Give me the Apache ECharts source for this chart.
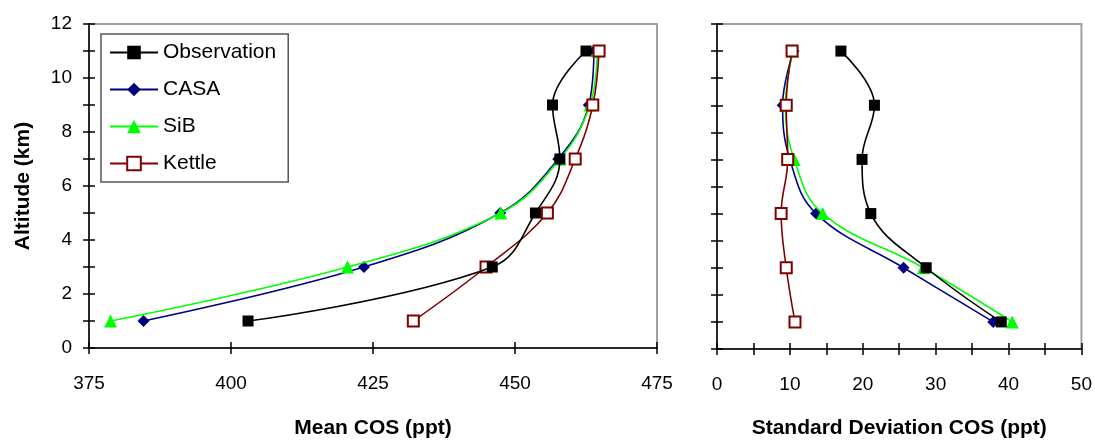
<!DOCTYPE html>
<html>
<head>
<meta charset="utf-8">
<script src="https://cdn.jsdelivr.net/npm/echarts@6/dist/echarts.min.js"></script>
<style>html,body{margin:0;padding:0;background:#fff}#c{width:1095px;height:444px}</style>
</head>
<body>
<div id="c"></div>
<script>
const altitudes = [1, 3, 5, 7, 9, 11];
const seriesNames = ['Observation', 'CASA', 'SiB', 'Kettle'];
const meanObs = [403.0, 446.0, 453.6, 457.9, 456.6, 462.5];
const meanCASA = [384.6, 423.4, 447.4, 457.6, 463.0, 463.9];
const meanSiB = [378.8, 420.5, 447.5, 457.9, 463.2, 464.5];
const meanKettle = [432.1, 444.9, 455.7, 460.6, 463.7, 464.8];
const sdObs = [39.0, 28.7, 21.1, 19.9, 21.6, 17.0];
const sdCASA = [37.9, 25.6, 13.6, 10.0, 9.0, 10.5];
const sdSiB = [40.5, 28.3, 14.5, 10.6, 9.4, 10.4];
const sdKettle = [10.7, 9.5, 8.8, 9.7, 9.5, 10.3];
const meanTicks = [375, 400, 425, 450, 475];
const sdTicks = [0, 10, 20, 30, 40, 50];
const altTicks = [0, 2, 4, 6, 8, 10, 12];

const FONT = "'Liberation Sans', Arial, sans-serif";
const styles = {
  Observation: {color: '#000000', symbol: 'rect', size: 11, fill: '#000000'},
  CASA: {color: '#000080', symbol: 'diamond', size: 12, fill: '#000080'},
  SiB: {color: '#00ff00', symbol: 'triangle', size: 13, fill: '#00ff00'},
  Kettle: {color: '#800000', symbol: 'rect', size: 11, fill: '#ffffff'}
};
const meanData = {Observation: meanObs, CASA: meanCASA, SiB: meanSiB, Kettle: meanKettle};
const sdData = {Observation: sdObs, CASA: sdCASA, SiB: sdSiB, Kettle: sdKettle};

function pairs(xs) { return xs.map((x, i) => [x, altitudes[i]]); }

function mkSeries(name, data, xi, yi) {
  const s = styles[name];
  return {
    name: name, type: 'line', xAxisIndex: xi, yAxisIndex: yi,
    data: pairs(data), smooth: 0.4,
    symbol: s.symbol, symbolSize: s.size,
    lineStyle: {color: s.color, width: 1.6},
    itemStyle: {color: s.fill, borderColor: s.color, borderWidth: name === 'Kettle' ? 2 : 0},
    emphasis: {disabled: true},
    z: name === 'Kettle' ? 5 : (name === 'SiB' ? 4 : (name === 'CASA' ? 3 : 6))
  };
}

const labelStyle = {fontFamily: FONT, fontSize: 19, color: '#000'};
const nameStyle = {fontFamily: FONT, fontSize: 21, fontWeight: 'bold', color: '#000'};

function xMain(grid, min, max, interval, labels, name, gap) {
  return {
    type: 'value', gridIndex: grid, position: 'bottom', min: min, max: max, interval: interval,
    axisLine: {show: true, onZero: false, lineStyle: {color: '#000', width: 1.5}},
    axisTick: {show: true, inside: false, length: 6, lineStyle: {color: '#000', width: 1.5}},
    axisLabel: {show: true, margin: 26, ...labelStyle, formatter: v => labels.includes(v) ? String(v) : ''},
    splitLine: {show: false},
    name: name, nameLocation: 'middle', nameGap: gap, nameTextStyle: nameStyle
  };
}
function xInner(grid, min, max, interval) {
  return {
    type: 'value', gridIndex: grid, position: 'bottom', min: min, max: max, interval: interval,
    axisLine: {show: false, onZero: false},
    axisTick: {show: true, inside: true, length: 6, lineStyle: {color: '#000', width: 1.5}},
    axisLabel: {show: false}, splitLine: {show: false}
  };
}
function yMain(grid, showLabels, name) {
  return {
    type: 'value', gridIndex: grid, position: 'left', min: 0, max: 12, interval: 1,
    axisLine: {show: true, onZero: false, lineStyle: {color: '#000', width: 1.5}},
    axisTick: {show: true, inside: false, length: 6, lineStyle: {color: '#000', width: 1.5}},
    axisLabel: {show: showLabels, margin: 17, ...labelStyle, formatter: v => altTicks.includes(v) ? String(v) : ''},
    splitLine: {show: false},
    name: name, nameLocation: 'middle', nameGap: 55, nameTextStyle: nameStyle
  };
}
function yInner(grid) {
  return {
    type: 'value', gridIndex: grid, position: 'left', min: 0, max: 12, interval: 1,
    axisLine: {show: false, onZero: false},
    axisTick: {show: true, inside: true, length: 6, lineStyle: {color: '#000', width: 1.5}},
    axisLabel: {show: false}, splitLine: {show: false}
  };
}

const series = [];
seriesNames.forEach(n => series.push(mkSeries(n, meanData[n], 0, 0)));
seriesNames.forEach(n => series.push(mkSeries(n, sdData[n], 2, 2)));

const chart = echarts.init(document.getElementById('c'), null, {renderer: 'canvas'});
chart.setOption({
  animation: false,
  backgroundColor: '#ffffff',
  grid: [
    {left: 89, top: 24, width: 568, height: 333, show: true, borderColor: '#a0a0a0', borderWidth: 2, backgroundColor: 'transparent'},
    {left: 717, top: 24, width: 365, height: 333, show: true, borderColor: '#a0a0a0', borderWidth: 2, backgroundColor: 'transparent'}
  ],
  xAxis: [
    xMain(0, 375, 475, 25, meanTicks, 'Mean COS (ppt)', 70),
    xInner(0, 375, 475, 25),
    xMain(1, 0, 50, 5, sdTicks, 'Standard Deviation COS (ppt)', 69),
    xInner(1, 0, 50, 5)
  ],
  yAxis: [
    yMain(0, true, 'Altitude (km)'),
    yInner(0),
    yMain(1, false, ''),
    yInner(1)
  ],
  legend: {
    show: true, orient: 'vertical', left: 101, top: 34,
    data: seriesNames,
    itemWidth: 48, itemHeight: 17, itemGap: 16,
    padding: [8, 12, 8, 8],
    borderColor: '#555', borderWidth: 1.5, backgroundColor: '#fff',
    textStyle: {fontFamily: FONT, fontSize: 21, color: '#000', padding: [0, 0, 0, 0]},
    selectedMode: false
  },
  series: series
});
</script>
</body>
</html>
